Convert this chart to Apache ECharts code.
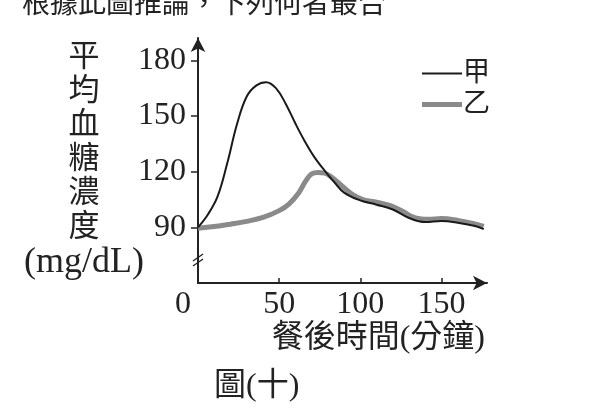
<!DOCTYPE html>
<html>
<head>
<meta charset="utf-8">
<script src="https://cdn.jsdelivr.net/npm/echarts@6/dist/echarts.min.js"></script>
<style>
  html, body { margin: 0; padding: 0; background: #fff; }
  #chart { width: 600px; height: 420px; }
</style>
</head>
<body>
<div id="chart"></div>
<script>
var serif = '"Liberation Serif", "Noto Sans CJK TC", serif';

// 甲
var timeA = [0, 6, 12, 18, 24, 30, 36, 42, 48, 54, 60, 66, 72, 78, 84, 90, 100, 110, 120, 130, 140, 150, 160, 170, 176];
var valA = [90, 96.8, 106.5, 124.5, 145.5, 160.5, 166.5, 168.2, 165, 156.6, 145.9, 136, 127.4, 120.6, 114.3, 108.7, 104.5, 102.2, 99.6, 95, 92.8, 93.4, 92.5, 90.8, 89];
// 乙
var timeB = [0, 10, 20, 30, 40, 50, 56, 62, 66, 70, 74, 78, 82, 88, 95, 102, 110, 118, 126, 134, 142, 150, 160, 170, 176];
var valB = [89.5, 90.4, 91.7, 93.2, 95.3, 99, 102.5, 108.5, 114.5, 118.8, 119.5, 119.2, 117.2, 112.8, 107.8, 104.8, 103.6, 101.8, 98.6, 95, 94.3, 94.7, 93.7, 92, 90.5];

var yTicks = [90, 120, 150, 180];
var xTicks = [50, 100, 150];
var xLabels = [0, 50, 100, 150];

function pairs(xs, ys) {
    return xs.map(function (x, i) { return [x, ys[i]]; });
}

var legendText = { fontFamily: serif, fontSize: 27, color: '#222', padding: [0, 0, 0, -4] };

var chart = echarts.init(document.getElementById('chart'));
var option = {
    animation: false,
    title: [
        {
            text: '根據此圖推論，下列何者最合',
            left: 17, top: -13,
            textStyle: { fontFamily: serif, fontSize: 28, fontWeight: 'normal', color: '#222' }
        },
        {
            text: '圖(十)',
            left: 209, top: 366,
            textStyle: { fontFamily: serif, fontSize: 32, fontWeight: 'normal', color: '#222' }
        }
    ],
    // 兩條圖例線粗細不同，分成兩個 legend
    legend: [
        {
            left: 417, top: 55,
            icon: 'rect', itemWidth: 40, itemHeight: 2,
            textStyle: legendText,
            data: ['甲']
        },
        {
            left: 417, top: 86,
            icon: 'rect', itemWidth: 40, itemHeight: 5,
            textStyle: legendText,
            data: ['乙']
        }
    ],
    grid: { left: 198, right: 113, top: 38, bottom: 137 },
    xAxis: {
        type: 'value',
        min: 0, max: 178, interval: 50,
        name: '餐後時間(分鐘)',
        nameLocation: 'end',
        nameGap: -2,
        nameMoveOverlap: false,
        nameTextStyle: {
            fontFamily: serif, fontSize: 32, color: '#222',
            align: 'right', verticalAlign: 'top', padding: [40, 0, 0, 0]
        },
        splitLine: { show: false },
        axisLine: { lineStyle: { color: '#222', width: 2 }, symbol: ['none', 'arrow'], symbolSize: [11, 14] },
        axisTick: { inside: true, length: 5, customValues: xTicks, lineStyle: { color: '#222', width: 1.5 } },
        axisLabel: {
            customValues: xLabels,
            fontFamily: serif, fontSize: 32, color: '#222', margin: 6,
            formatter: function (v) { return v === 0 ? '{z|0}' : String(v); },
            rich: { z: { fontFamily: serif, fontSize: 32, color: '#222', padding: [0, 30, 0, 0] } }
        }
    },
    yAxis: {
        type: 'value',
        min: 60, max: 192, interval: 30,
        name: ['平', '均', '血', '糖', '濃', '度'].map(function (c) { return '{c|' + c + '}'; }).join('\n') + '\n{u|(mg/dL)}',
        nameLocation: 'middle',
        nameRotate: 0,
        nameGap: 114,
        nameMoveOverlap: false,
        nameTextStyle: {
            fontFamily: serif, fontSize: 31, color: '#222', align: 'center', verticalAlign: 'middle',
            rich: {
                c: { fontFamily: serif, fontSize: 31, color: '#222', lineHeight: 34, align: 'center' },
                u: { fontFamily: serif, fontSize: 36, color: '#222', lineHeight: 36, align: 'center' }
            }
        },
        splitLine: { show: false },
        axisLine: { lineStyle: { color: '#222', width: 2 }, symbol: ['none', 'arrow'], symbolSize: [11, 14] },
        axisTick: { length: 7, customValues: yTicks, lineStyle: { color: '#222', width: 1.5 } },
        axisLabel: { customValues: yTicks, fontFamily: serif, fontSize: 32, color: '#222', margin: 12 }
    },
    graphic: [
        { type: 'line', shape: { x1: 193, y1: 261, x2: 203, y2: 254 }, style: { stroke: '#222', lineWidth: 1.3 } },
        { type: 'line', shape: { x1: 193, y1: 266, x2: 203, y2: 259 }, style: { stroke: '#222', lineWidth: 1.3 } }
    ],
    series: [
        {
            name: '乙', type: 'line', smooth: 0.4, symbol: 'none',
            lineStyle: { color: '#8a8a8a', width: 5 },
            itemStyle: { color: '#8a8a8a' },
            z: 2,
            data: pairs(timeB, valB)
        },
        {
            name: '甲', type: 'line', smooth: 0.4, symbol: 'none',
            lineStyle: { color: '#1a1a1a', width: 2 },
            itemStyle: { color: '#1a1a1a' },
            z: 3,
            data: pairs(timeA, valA)
        }
    ]
};
chart.setOption(option);
</script>
</body>
</html>
